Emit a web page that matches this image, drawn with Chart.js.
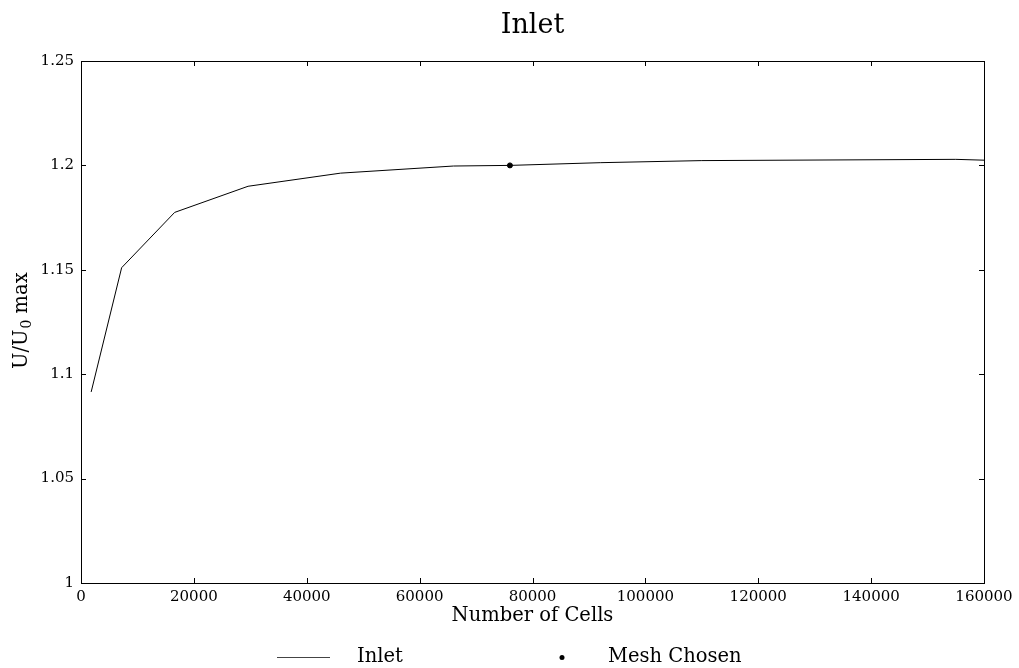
<!DOCTYPE html>
<html>
<head>
<meta charset="utf-8">
<script src="https://cdn.jsdelivr.net/npm/chart.js@4"></script>
<style>
  html, body { margin: 0; padding: 0; background: #fff; }
  #wrap { width: 1019px; height: 668px; }
</style>
</head>
<body>
<div id="wrap"><canvas id="meshChart" width="1019" height="668"></canvas></div>
<script>
const cells = [1800, 7200, 16600, 29600, 46000, 66000, 76000, 92000, 110000, 155000, 160000];
const uMax = [1.0915, 1.151, 1.1775, 1.19, 1.1963, 1.1997, 1.2, 1.2013, 1.2023, 1.2029, 1.2025];
const chosenCells = [76000];
const chosenU = [1.2];
const xTicks = [0, 20000, 40000, 60000, 80000, 100000, 120000, 140000, 160000];
const yTicks = [1, 1.05, 1.1, 1.15, 1.2, 1.25];

const FONT = "'DejaVu Serif', serif";
Chart.defaults.font.family = FONT;
Chart.defaults.color = "#000";

// inward ticks on all four sides, box, y label with subscript, legend
const frame = {
    id: 'frame',
    afterDraw(chart) {
        const ctx = chart.ctx;
        const a = chart.chartArea;
        const xs = chart.scales.x, ys = chart.scales.y;
        ctx.save();
        ctx.strokeStyle = "#000";
        ctx.lineWidth = 1;
        ctx.beginPath();
        xs.ticks.forEach(t => {
            const px = Math.round(xs.getPixelForValue(t.value)) + 0.5;
            ctx.moveTo(px, a.bottom); ctx.lineTo(px, a.bottom - 5);
            ctx.moveTo(px, a.top); ctx.lineTo(px, a.top + 5);
        });
        ys.ticks.forEach(t => {
            const py = Math.round(ys.getPixelForValue(t.value)) + 0.5;
            ctx.moveTo(a.left, py); ctx.lineTo(a.left + 5, py);
            ctx.moveTo(a.right, py); ctx.lineTo(a.right - 5, py);
        });
        ctx.stroke();
        ctx.strokeRect(Math.round(a.left) + 0.5, Math.round(a.top) + 0.5,
            Math.round(a.right - a.left), Math.round(a.bottom - a.top));

        ctx.fillStyle = "#000";
        // y axis label: U/U0 max, 0 as subscript
        ctx.save();
        ctx.translate(27, 369);
        ctx.rotate(-Math.PI / 2);
        ctx.textBaseline = "alphabetic";
        ctx.textAlign = "left";
        ctx.font = "19.5px " + FONT;
        ctx.fillText("U/U", 0, 0);
        let w = ctx.measureText("U/U").width;
        ctx.font = "14px " + FONT;
        ctx.fillText("0", w + 1, 4);
        w += ctx.measureText("0").width + 1;
        ctx.font = "19.5px " + FONT;
        ctx.fillText(" max", w, 0);
        ctx.restore();

        // legend
        const ly = 657;
        ctx.font = "19.5px " + FONT;
        ctx.textBaseline = "middle";
        ctx.strokeStyle = "#444";
        ctx.beginPath();
        ctx.moveTo(277, ly + 0.5); ctx.lineTo(330, ly + 0.5);
        ctx.stroke();
        ctx.fillText(chart.data.datasets[0].label, 357, ly);
        ctx.beginPath();
        ctx.arc(562, ly + 0.5, 2.5, 0, Math.PI * 2);
        ctx.fill();
        ctx.fillText(chart.data.datasets[1].label, 608, ly);
        ctx.restore();
    }
};

function drawMeshChart() {
    "use strict";
    let ctx = document.getElementById("meshChart");
    let chart = new Chart(ctx, {
        type: 'scatter',
        data: {
            datasets: [{
                label: 'Inlet',
                data: cells.map((c, i) => ({x: c, y: uMax[i]})),
                showLine: true,
                borderColor: "#000",
                borderWidth: 1,
                pointRadius: 0,
                tension: 0
            }, {
                label: 'Mesh Chosen',
                data: chosenCells.map((c, i) => ({x: c, y: chosenU[i]})),
                backgroundColor: "#000",
                borderColor: "#000",
                pointRadius: 2.5
            }]
        },
        plugins: [frame],
        options: {
            responsive: false,
            animation: false,
            layout: { padding: { left: 0, right: 0, top: 0, bottom: 40 } },
            plugins: {
                legend: { display: false },
                tooltip: { enabled: false },
                title: {
                    display: true,
                    fullSize: false,
                    text: 'Inlet',
                    font: { size: 27, weight: 'normal' },
                    color: "#000",
                    padding: { top: 10, bottom: 18.6 }
                }
            },
            scales: {
                x: {
                    type: 'linear',
                    min: 0,
                    max: 160000,
                    afterBuildTicks: s => { s.ticks = xTicks.map(v => ({value: v})); },
                    afterFit: s => { s.height = 45; s.paddingRight = 35; },
                    grid: { display: false, drawTicks: false },
                    border: { display: false },
                    ticks: { font: { size: 15 }, padding: 5, maxRotation: 0, callback: v => String(v) },
                    title: { display: true, text: 'Number of Cells', font: { size: 19.5 }, padding: { top: 0, bottom: 0 } }
                },
                y: {
                    min: 1,
                    max: 1.25,
                    afterBuildTicks: s => { s.ticks = yTicks.map(v => ({value: v})); },
                    afterFit: s => { s.width = 81; },
                    grid: { display: false, drawTicks: false },
                    border: { display: false },
                    ticks: { font: { size: 15 }, padding: 7, callback: v => String(Number(v.toFixed(2))) },
                    title: { display: false }
                }
            }
        }
    });
}
drawMeshChart();
</script>
</body>
</html>
